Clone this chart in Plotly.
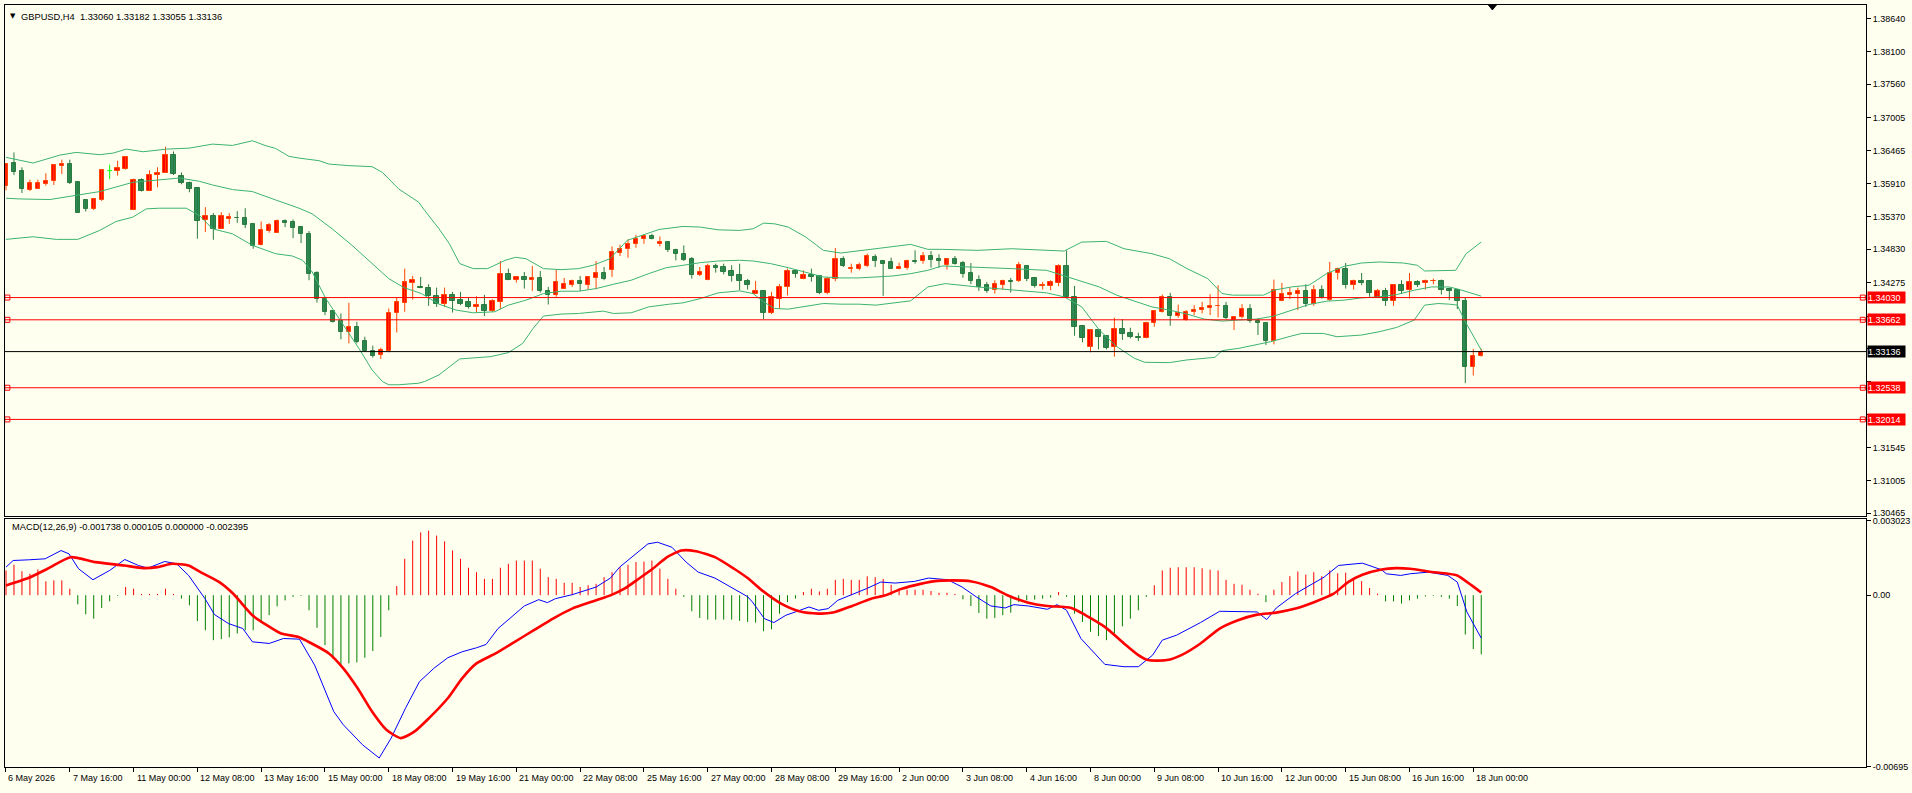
import plotly.graph_objects as go
from plotly.subplots import make_subplots

# ---------------- data ----------------
OPEN = [1.35883,1.36251,1.36119,1.35810,1.35827,1.35904,1.35965,1.36213,1.36234,1.35937,
1.35641,1.35493,1.35641,1.36130,1.36119,1.36157,1.35487,1.35982,1.35794,1.36058,
1.36097,1.36394,1.36047,1.35926,1.35838,1.35306,1.35372,1.35168,1.35322,1.35349,
1.35344,1.35245,1.34893,1.35135,1.35102,1.35294,1.35278,1.35196,1.35080,1.34437,
1.34014,1.33806,1.33646,1.33453,1.33547,1.33316,1.33151,1.33080,1.33146,1.33767,
1.33948,1.34278,1.34206,1.34190,1.34058,1.33921,1.34069,1.33992,1.33959,1.33876,
1.33905,1.33811,1.33959,1.34421,1.34317,1.34371,1.34317,1.34355,1.34141,1.34080,
1.34179,1.34234,1.34305,1.34245,1.34355,1.34437,1.34481,1.34772,1.34828,1.34920,
1.35003,1.35047,1.34910,1.34948,1.34822,1.34756,1.34663,1.34409,1.34317,1.34553,
1.34536,1.34470,1.34399,1.34305,1.34096,1.34135,1.33767,1.34014,1.34206,1.34476,
1.34333,1.34409,1.34388,1.34113,1.34338,1.34668,1.34498,1.34509,1.34558,1.34701,
1.34635,1.34619,1.34498,1.34525,1.34630,1.34630,1.34712,1.34668,1.34575,1.34673,
1.34608,1.34437,1.34317,1.34245,1.34152,1.34245,1.34300,1.34300,1.34547,1.34355,
1.34223,1.34223,1.34278,1.34553,1.34042,1.33564,1.33218,1.33493,1.33399,1.33206,
1.33509,1.33437,1.33382,1.33355,1.33602,1.33795,1.34042,1.33724,1.33658,1.33790,
1.33823,1.33861,1.33888,1.33893,1.33658,1.33701,1.33839,1.33641,1.33613,1.33316,
1.33970,1.34080,1.34096,1.34141,1.33931,1.34152,1.33988,1.34437,1.34509,1.34234,
1.34300,1.34305,1.34030,1.34135,1.33970,1.34234,1.34152,1.34289,1.34278,1.34300,
1.34305,1.34168,1.34157,1.33975,1.32877,1.33060]

HIGH = [1.36251,1.36432,1.36185,1.35982,1.35982,1.36086,1.36229,1.36312,1.36312,1.35942,
1.35641,1.35679,1.36157,1.36229,1.36295,1.36366,1.35998,1.36003,1.36135,1.36185,
1.36526,1.36448,1.36102,1.35949,1.35855,1.35526,1.35427,1.35443,1.35427,1.35460,
1.35509,1.35245,1.35289,1.35262,1.35322,1.35322,1.35322,1.35212,1.35130,1.34466,
1.34014,1.33806,1.33767,1.33943,1.33630,1.33382,1.33234,1.33201,1.33849,1.34030,
1.34509,1.34388,1.34371,1.34251,1.34195,1.34195,1.34124,1.34124,1.34025,1.34053,
1.34075,1.34003,1.34635,1.34509,1.34388,1.34454,1.34553,1.34470,1.34206,1.34492,
1.34355,1.34327,1.34388,1.34371,1.34635,1.34536,1.34877,1.34904,1.34993,1.35069,
1.35069,1.35085,1.35042,1.34948,1.34838,1.34894,1.34701,1.34536,1.34591,1.34591,
1.34591,1.34564,1.34591,1.34338,1.34305,1.34135,1.34124,1.34251,1.34509,1.34492,
1.34481,1.34509,1.34388,1.34371,1.34850,1.34712,1.34591,1.34608,1.34756,1.34746,
1.34635,1.34690,1.34608,1.34657,1.34811,1.34784,1.34800,1.34746,1.34673,1.34718,
1.34635,1.34602,1.34399,1.34289,1.34317,1.34327,1.34355,1.34619,1.34564,1.34371,
1.34289,1.34317,1.34581,1.34811,1.34223,1.33575,1.33503,1.33503,1.33399,1.33696,
1.33674,1.33531,1.33448,1.33630,1.33823,1.34080,1.34108,1.33915,1.33823,1.33905,
1.33959,1.34086,1.34234,1.33959,1.33712,1.33921,1.33921,1.33685,1.33613,1.34327,
1.34272,1.34195,1.34195,1.34251,1.34234,1.34234,1.34619,1.34525,1.34602,1.34327,
1.34437,1.34317,1.34173,1.34190,1.34234,1.34317,1.34437,1.34317,1.34327,1.34344,
1.34327,1.34195,1.34168,1.34025,1.33180,1.33182]

LOW = [1.35805,1.36058,1.35761,1.35794,1.35827,1.35883,1.35893,1.36074,1.35909,1.35432,
1.35454,1.35476,1.35629,1.35992,1.36047,1.36146,1.35476,1.35784,1.35794,1.35855,
1.36097,1.36058,1.35904,1.35772,1.35003,1.35113,1.34986,1.35168,1.35250,1.35267,
1.35179,1.34838,1.34893,1.35102,1.35102,1.35196,1.35014,1.34932,1.34317,1.33948,
1.33740,1.33618,1.33338,1.33272,1.33272,1.33135,1.33036,1.33015,1.33124,1.33453,
1.33795,1.33997,1.34185,1.33893,1.33876,1.33876,1.33783,1.33905,1.33849,1.33783,
1.33724,1.33795,1.33839,1.34317,1.34278,1.34179,1.34141,1.34113,1.33915,1.34042,
1.34179,1.34206,1.34135,1.34162,1.34168,1.34317,1.34371,1.34717,1.34689,1.34854,
1.34920,1.34993,1.34877,1.34784,1.34646,1.34635,1.34344,1.34384,1.34317,1.34443,
1.34415,1.34294,1.34152,1.34162,1.34096,1.33674,1.33757,1.33844,1.34064,1.34360,
1.34333,1.34294,1.34086,1.34086,1.34300,1.34536,1.34443,1.34481,1.34536,1.34536,
1.34058,1.34509,1.34498,1.34492,1.34591,1.34591,1.34525,1.34525,1.34492,1.34575,
1.34360,1.34251,1.34141,1.34108,1.34096,1.34162,1.34113,1.34289,1.34300,1.34195,
1.34162,1.34152,1.34218,1.34030,1.33399,1.33289,1.33124,1.33173,1.33173,1.33052,
1.33328,1.33355,1.33311,1.33355,1.33547,1.33783,1.33564,1.33696,1.33646,1.33740,
1.33767,1.33740,1.33701,1.33674,1.33493,1.33685,1.33613,1.33410,1.33245,1.33256,
1.33970,1.34003,1.33823,1.33876,1.33893,1.34014,1.33975,1.34327,1.34179,1.34162,
1.34234,1.34042,1.34030,1.33893,1.33893,1.34096,1.34014,1.34206,1.34162,1.34251,
1.34080,1.33988,1.33839,1.32613,1.32740,1.33055]

CLOSE = [1.36239,1.36113,1.35827,1.35921,1.35921,1.35965,1.36223,1.36239,1.35926,1.35432,
1.35498,1.35657,1.36135,1.36130,1.36168,1.36349,1.35982,1.35794,1.36064,1.36097,
1.36394,1.36074,1.35926,1.35827,1.35290,1.35372,1.35168,1.35388,1.35361,1.35339,
1.35234,1.34882,1.35141,1.35223,1.35289,1.35267,1.35184,1.35075,1.34426,1.34014,
1.33795,1.33630,1.33453,1.33547,1.33300,1.33146,1.33069,1.33163,1.33778,1.33959,
1.34289,1.34322,1.34185,1.34053,1.33921,1.34069,1.33975,1.33931,1.33876,1.33905,
1.33811,1.33970,1.34421,1.34317,1.34371,1.34317,1.34355,1.34135,1.34080,1.34289,
1.34251,1.34300,1.34261,1.34371,1.34437,1.34344,1.34784,1.34828,1.34920,1.35003,
1.35042,1.35003,1.34948,1.34811,1.34746,1.34657,1.34409,1.34454,1.34553,1.34525,
1.34459,1.34388,1.34300,1.34245,1.34135,1.33767,1.34042,1.34206,1.34470,1.34426,
1.34409,1.34377,1.34113,1.34338,1.34668,1.34547,1.34525,1.34564,1.34712,1.34630,
1.34591,1.34509,1.34536,1.34635,1.34619,1.34712,1.34657,1.34630,1.34668,1.34591,
1.34426,1.34305,1.34206,1.34141,1.34251,1.34300,1.34289,1.34564,1.34344,1.34223,
1.34240,1.34289,1.34553,1.34042,1.33547,1.33355,1.33493,1.33382,1.33201,1.33509,
1.33420,1.33382,1.33355,1.33613,1.33806,1.34042,1.33724,1.33767,1.33790,1.33823,
1.33861,1.33893,1.33893,1.33685,1.33712,1.33839,1.33641,1.33602,1.33316,1.34152,
1.34086,1.34108,1.34135,1.33931,1.34152,1.34025,1.34437,1.34509,1.34234,1.34300,
1.34278,1.34113,1.34135,1.33970,1.34234,1.34141,1.34289,1.34245,1.34305,1.34305,
1.34162,1.34141,1.33970,1.32877,1.33069,1.33136]

# Bollinger bands (bar index, value)
BB_UPPER = [(0,1.36350),(3.4,1.36256),(6.75,1.36387),(8.8,1.36432),(11.75,1.36394),(13.4,1.36420),
(15.1,1.36486),(17.2,1.36443),(20.1,1.36486),(23,1.36503),(25.9,1.36569),(28.4,1.36547),(30.9,1.36625),
(32.6,1.36542),(33.8,1.36498),(35.5,1.36366),(36.75,1.36338),(39.25,1.36295),(40.5,1.36239),(43,1.36213),
(45.9,1.36196),(47.2,1.36102),(49.25,1.35827),(51.75,1.35608),(52.5,1.35471),(54.3,1.35168),(55.6,1.34920),
(56.9,1.34591),(58.6,1.34509),(60.4,1.34509),(62.6,1.34647),(63.9,1.34696),(65.2,1.34673),(67.4,1.34509),
(69.6,1.34492),(71.8,1.34509),(73.6,1.34564),(75.75,1.34673),(77.9,1.34976),(79.7,1.35058),(81.9,1.35157),
(84.9,1.35207),(87.1,1.35196),(89.3,1.35151),(92,1.35141),(93.7,1.35168),(95,1.35262),(96.4,1.35250),
(98.1,1.35196),(100.3,1.35031),(102.5,1.34811),(104.7,1.34767),(106.9,1.34800),(109.1,1.34838),
(111.25,1.34866),(113.45,1.34910),(115.6,1.34828),(117.4,1.34828),(121.8,1.34811),(126.1,1.34838),
(132.7,1.34800),(134.9,1.34948),(138,1.34960),(140.2,1.34838),(143.7,1.34756),(145.9,1.34673),
(148.1,1.34509),(150.7,1.34344),(152.5,1.34096),(153.8,1.34070),(157.7,1.34070),(159,1.34152),
(161.2,1.34206),(163.4,1.34234),(165.6,1.34426),(167.8,1.34547),(170,1.34602),(172.2,1.34619),
(175.25,1.34602),(177,1.34564),(177.9,1.34470),(181.8,1.34481),(183.1,1.34756),(185,1.34948)]

BB_MIDDLE = [(0,1.35674),(1.75,1.35662),(5.5,1.35652),(8.8,1.35718),(11.75,1.35784),(15.9,1.35937),
(18,1.35965),(20.1,1.35992),(21.75,1.36008),(24.25,1.35954),(25.9,1.35893),(28.4,1.35817),(30.9,1.35784),
(33.8,1.35646),(36.75,1.35509),(38.4,1.35415),(40.9,1.35168),(43.4,1.34894),(45.9,1.34591),(48,1.34344),
(49.9,1.34195),(52.1,1.34096),(54.3,1.33921),(56.45,1.33823),(58.6,1.33778),(61.3,1.33795),(63,1.33905),
(65.2,1.33987),(67.4,1.34096),(69.6,1.34135),(71.8,1.34135),(74,1.34179),(76.2,1.34251),(78.4,1.34317),
(80.6,1.34426),(82.8,1.34525),(84.9,1.34564),(87.1,1.34608),(89.3,1.34635),(92,1.34647),(93.7,1.34635),
(95.9,1.34591),(98.1,1.34525),(100.3,1.34454),(102.5,1.34371),(104.7,1.34355),(106.9,1.34355),
(109.1,1.34371),(111.25,1.34388),(113.45,1.34426),(115.6,1.34481),(117.4,1.34553),(121.8,1.34536),
(126.1,1.34509),(130.5,1.34481),(132.7,1.34388),(134.9,1.34305),(137.1,1.34206),(139.3,1.34069),
(141.5,1.33975),(143.7,1.33876),(145.9,1.33823),(148.1,1.33757),(150.25,1.33674),(152.5,1.33641),
(154.6,1.33658),(156.8,1.33674),(159,1.33724),(161.2,1.33823),(163.4,1.33915),(165.6,1.33970),
(167.8,1.33987),(170,1.34025),(172.2,1.34042),(174.4,1.34080),(176.6,1.34152),(178.75,1.34206),
(181,1.34206),(182.3,1.34162),(185,1.34053)]

BB_LOWER = [(0,1.34993),(2.6,1.35026),(3.4,1.35036),(6.3,1.34993),(9,1.34993),(11.75,1.35141),
(13.8,1.35289),(15.9,1.35361),(17.6,1.35498),(19.25,1.35509),(22.6,1.35509),(24.25,1.35388),
(25.9,1.35168),(28.4,1.35085),(30.9,1.34894),(33.8,1.34756),(35.9,1.34718),(37.2,1.34647),(38.4,1.34454),
(40.1,1.34014),(41.75,1.33685),(44.25,1.33190),(45.9,1.32834),(47.2,1.32641),(48,1.32587),(49.25,1.32587),
(51.75,1.32613),(52.5,1.32641),(54.3,1.32751),(56.9,1.33015),(58.6,1.33031),(60.8,1.33053),(63,1.33119),
(64.8,1.33272),(66.1,1.33520),(67.4,1.33724),(69.6,1.33757),(71.8,1.33767),(74.9,1.33806),(76.2,1.33767),
(78.4,1.33778),(80.6,1.33876),(83.2,1.33921),(84.9,1.33943),(87.1,1.34014),(89.3,1.34108),(92,1.34141),
(93.7,1.34096),(95,1.33959),(96.4,1.33849),(98.1,1.33839),(102.5,1.33932),(104.7,1.33921),(106.9,1.33921),
(109.1,1.33905),(113.45,1.33976),(115.6,1.34206),(117.8,1.34261),(121.8,1.34206),(126.1,1.34162),
(130.5,1.34108),(132.7,1.34042),(134.9,1.33876),(137.1,1.33493),(139.3,1.33218),(141.5,1.33025),
(142.8,1.32959),(145.9,1.32954),(148.1,1.32998),(151.6,1.33041),(152.5,1.33152),(154.6,1.33190),
(156.8,1.33245),(158.6,1.33300),(161.2,1.33394),(162.5,1.33437),(165.2,1.33437),(166.9,1.33382),
(170,1.33410),(172.2,1.33465),(174.4,1.33536),(176.6,1.33658),(177.9,1.33905),(179.6,1.33932),
(181,1.33921),(182,1.33905),(183,1.33630),(185,1.33163)]

# MACD main (blue) and signal (red)
MACD_LINE = [(0,0.001135),(0.9,0.001403),(2.8,0.001430),(4.9,0.001471),(6.9,0.001806),(7.9,0.001672),
(9.1,0.001068),(10.9,0.000624),(13,0.001001),(14.9,0.001444),(16.6,0.001202),(17.8,0.001095),(19.9,0.001363),
(21.4,0.001269),(22.9,0.000799),(24.95,-0.000141),(26.15,-0.000786),(27.9,-0.001148),(29.7,-0.001350),
(30.9,-0.001887),(33,-0.001954),(34.8,-0.001753),(36.8,-0.001779),(38.7,-0.002827),(41.1,-0.004707),
(42.3,-0.005244),(44.7,-0.006050),(46.8,-0.006587),(48.3,-0.005782),(50.1,-0.004573),(51.85,-0.003499),
(53.65,-0.002961),(55.4,-0.002532),(57.2,-0.002290),(59,-0.002129),(60.2,-0.001994),(61.7,-0.001350),
(63.2,-0.000947),(65,-0.000436),(66.8,-0.000181),(67.9,-0.000302),(68.9,-0.000141),(71,0.000020),
(74,0.000329),(75.8,0.000692),(76.95,0.001135),(78.75,0.001605),(80.5,0.002075),(81.7,0.002142),
(83.5,0.001941),(85.3,0.001336),(86.8,0.000933),(88.9,0.000692),(91.3,0.000262),(93,-0.000060),
(93.6,-0.000275),(95.1,-0.000947),(96.3,-0.001108),(97.8,-0.000812),(99,-0.000678),(100.7,-0.000477),
(101.9,-0.000611),(103.1,-0.000544),(104.3,-0.000208),(106.1,0.000020),(107.9,0.000262),(109.7,0.000530),
(111.5,0.000490),(113.9,0.000557),(115.7,0.000692),(118.1,0.000624),(119.9,0.000329),(121.7,-0.000074),
(123.5,-0.000436),(125.3,-0.000517),(126.4,-0.000383),(128.2,-0.000436),(130.6,-0.000571),(131.8,-0.000383),
(133,-0.000611),(134.8,-0.001753),(137.8,-0.002800),(140.2,-0.002894),(142,-0.002894),(143.8,-0.002424),
(145,-0.001820),(146.8,-0.001618),(149.8,-0.001108),(152.2,-0.000651),(154.5,-0.000678),(156.9,-0.000678),
(158.1,-0.000987),(159.3,-0.000517),(161.7,0.000060),(164.1,0.000530),(165.3,0.000732),(167.1,0.001202),
(170.1,0.001296),(172.5,0.001027),(173.1,0.000866),(174.9,0.000799),(176.1,0.000866),(178.4,0.000933),
(180.8,0.000799),(182,0.000530),(183.2,-0.000678),(185,-0.001738)]

SIGNAL_LINE = [(0,0.000396),(2.8,0.000692),(5.2,0.001068),(8.1,0.001538),(11.2,0.001336),(14.8,0.001202),
(17.2,0.001095),(19,0.001135),(20.8,0.001269),(22.9,0.001202),(24.4,0.000933),(26.75,0.000530),(28.5,0.000060),
(30.9,-0.000813),(32.7,-0.001215),(34.5,-0.001551),(36.6,-0.001685),(38.1,-0.001914),(40.5,-0.002357),
(42.3,-0.002961),(44.1,-0.003767),(45.9,-0.004707),(47.7,-0.005446),(49.5,-0.005782),(51.25,-0.005513),
(53.05,-0.004976),(55.4,-0.004170),(57.2,-0.003364),(59,-0.002760),(61.4,-0.002357),(63.8,-0.001887),
(66.2,-0.001417),(68.6,-0.000947),(71,-0.000544),(74,-0.000208),(75.8,-0.000007),(77.55,0.000262),
(79.35,0.000665),(81.1,0.001068),(82.9,0.001538),(84.7,0.001806),(86.5,0.001779),(88.9,0.001538),
(91.3,0.001068),(93,0.000692),(94.8,0.000195),(97.2,-0.000342),(99.5,-0.000651),(101.9,-0.000745),
(103.7,-0.000705),(106.1,-0.000436),(108.5,-0.000141),(110.3,-0.000007),(112.1,0.000235),(113.9,0.000396),
(116.3,0.000557),(118.7,0.000598),(121.1,0.000557),(123.5,0.000329),(125.8,-0.000034),(128.2,-0.000302),
(130.6,-0.000436),(133.6,-0.000517),(135.4,-0.000813),(137.8,-0.001283),(140.2,-0.001954),(142,-0.002424),
(143.2,-0.002626),(145.6,-0.002626),(147.4,-0.002424),(149.8,-0.001954),(152.2,-0.001350),(154.5,-0.001014),
(156.9,-0.000786),(159.3,-0.000705),(161.7,-0.000544),(164.1,-0.000275),(166.5,0.000060),(168.3,0.000530),
(170.1,0.000826),(172.5,0.001041),(174.3,0.001095),(176.1,0.001068),(178.4,0.000960),(180.8,0.000866),
(182,0.000799),(183.8,0.000396),(185,0.000105)]

HIST = [0.00100,0.00123,0.00097,0.00087,0.00104,0.00056,0.00060,0.00060,0.00026,-0.00037,
-0.00077,-0.00095,-0.00052,-0.00025,-0.00003,0.00033,0.00026,0.00005,0.00005,0.00005,
0.00026,0.00005,-0.00014,-0.00041,-0.00105,-0.00142,-0.00182,-0.00178,-0.00171,-0.00155,
-0.00142,-0.00142,-0.00108,-0.00081,-0.00045,-0.00021,-0.00007,-0.00003,-0.00061,-0.00132,
-0.00202,-0.00256,-0.00283,-0.00276,-0.00272,-0.00253,-0.00226,-0.00169,-0.00061,0.00037,
0.00147,0.00221,0.00254,0.00261,0.00241,0.00218,0.00181,0.00147,0.00111,0.00093,
0.00066,0.00066,0.00111,0.00127,0.00140,0.00140,0.00140,0.00107,0.00073,0.00066,
0.00050,0.00050,0.00033,0.00040,0.00046,0.00073,0.00093,0.00113,0.00123,0.00134,
0.00136,0.00140,0.00107,0.00066,0.00026,-0.00007,-0.00065,-0.00092,-0.00099,-0.00099,
-0.00099,-0.00099,-0.00104,-0.00108,-0.00111,-0.00146,-0.00138,-0.00075,-0.00028,-0.00014,
0.00013,0.00026,0.00015,0.00026,0.00062,0.00066,0.00062,0.00062,0.00076,0.00073,
0.00066,0.00042,0.00026,0.00022,0.00022,0.00022,0.00017,0.00010,0.00010,0.00005,
-0.00017,-0.00044,-0.00072,-0.00095,-0.00092,-0.00081,-0.00071,-0.00028,-0.00021,-0.00018,
-0.00014,-0.00010,0.00013,-0.00007,-0.00075,-0.00108,-0.00148,-0.00165,-0.00182,-0.00155,
-0.00126,-0.00095,-0.00061,-0.00007,0.00040,0.00100,0.00111,0.00113,0.00113,0.00113,
0.00109,0.00103,0.00100,0.00062,0.00046,0.00042,0.00022,0.00006,-0.00028,0.00022,
0.00053,0.00077,0.00096,0.00083,0.00093,0.00077,0.00100,0.00089,0.00091,0.00066,
0.00057,0.00029,0.00006,-0.00025,-0.00025,-0.00034,-0.00021,-0.00014,-0.00005,-0.00003,
-0.00007,-0.00014,-0.00044,-0.00159,-0.00218,-0.002395]

RED_LEVELS = [1.34030, 1.33662, 1.32538, 1.32014]
BID = 1.33136

PRICE_TICKS = [1.38640,1.38100,1.37560,1.37005,1.36465,1.35910,1.35370,1.34830,1.34275,
               1.33720,1.33180,1.32640,1.32100,1.31545,1.31005,1.30465]
# ticks whose labels sit under the price boxes (covered in the reference)
COVERED_TICKS = [1.33720, 1.33180, 1.32640, 1.32100]
MACD_TICKS = [0.003023, 0.0, -0.00695]
MACD_TICK_TEXT = ["0.003023", "0.00", "-0.00695"]

TIME_LABEL_IDX = [0,8,16,24,32,40,48,56,64,72,80,88,96,104,112,120,128,136,144,152,160,168,176,184]
TIME_LABELS = ["6 May 2026","7 May 16:00","11 May 00:00","12 May 08:00","13 May 16:00","15 May 00:00",
               "18 May 08:00","19 May 16:00","21 May 00:00","22 May 08:00","25 May 16:00","27 May 00:00",
               "28 May 08:00","29 May 16:00","2 Jun 00:00","3 Jun 08:00","4 Jun 16:00","8 Jun 00:00",
               "9 Jun 08:00","10 Jun 16:00","12 Jun 00:00","15 Jun 08:00","16 Jun 16:00","18 Jun 00:00"]

TITLE = "GBPUSD,H4  1.33060 1.33182 1.33055 1.33136"
MACD_TITLE = "MACD(12,26,9) -0.001738 0.000105 0.000000 -0.002395"

# ---------------- styling ----------------
BG = "#FFFFF0"
UP_FILL, UP_LINE = "#FF0000", "#FF4500"
DN_FILL, DN_LINE = "#2E8B57", "#2A7A3E"
DOJI = "#00FF00"
BB_COLOR = "#3CB371"
FONT = "Liberation Sans"

N = len(CLOSE)
idx = list(range(N))
X_RANGE = [-0.125, 233.25]
Y1_RANGE = [1.30416, 1.38871]
Y2_RANGE = [-0.006952, 0.003083]

fig = make_subplots(rows=2, cols=1)

# Candle wicks
groups = {"up": ([], []), "dn": ([], []), "doji": ([], [])}
for i in idx:
    o, h, l, c = OPEN[i], HIGH[i], LOW[i], CLOSE[i]
    g = "up" if c > o else ("dn" if c < o else "doji")
    groups[g][0].extend([i, i, None])
    groups[g][1].extend([l, h, None])
    if g == "doji":
        groups[g][0].extend([i - 0.3, i + 0.3, None])
        groups[g][1].extend([o, o, None])
wick_col = {"up": UP_LINE, "dn": DN_LINE, "doji": DOJI}
for g, (xs, ys) in groups.items():
    fig.add_trace(go.Scatter(x=xs, y=ys, mode="lines", line=dict(color=wick_col[g], width=1),
                             hoverinfo="skip", showlegend=False), row=1, col=1)

# Candle bodies
MIN_BODY = 0.00005
for g, fill, line in (("up", UP_FILL, UP_LINE), ("dn", DN_FILL, DN_LINE)):
    bx, bb, bh = [], [], []
    for i in idx:
        o, c = OPEN[i], CLOSE[i]
        if (g == "up" and c > o) or (g == "dn" and c < o):
            bx.append(i)
            bb.append(min(o, c))
            bh.append(max(abs(c - o), MIN_BODY))
    fig.add_trace(go.Bar(x=bx, y=bh, base=bb, width=0.55,
                         marker=dict(color=fill, line=dict(color=line, width=1)),
                         hoverinfo="skip", showlegend=False), row=1, col=1)

# Bollinger bands
for band in (BB_UPPER, BB_MIDDLE, BB_LOWER):
    fig.add_trace(go.Scatter(x=[p[0] for p in band], y=[p[1] for p in band], mode="lines",
                             line=dict(color=BB_COLOR, width=1), hoverinfo="skip",
                             showlegend=False), row=1, col=1)

# Small squares at the ends of the red level lines
for lvl in RED_LEVELS:
    fig.add_trace(go.Scatter(x=[0.17, 232.85], y=[lvl, lvl], mode="markers",
                             marker=dict(symbol="square-open", size=5, color="#FF0000",
                                         line=dict(width=1, color="#FF0000")),
                             hoverinfo="skip", showlegend=False), row=1, col=1)

# MACD histogram
hx = {"pos": ([], []), "neg": ([], [])}
for i, v in enumerate(HIST):
    k = "pos" if v >= 0 else "neg"
    hx[k][0].extend([i, i, None])
    hx[k][1].extend([0, v, None])
for k, col in (("pos", "#FF0000"), ("neg", "#008000")):
    fig.add_trace(go.Scatter(x=hx[k][0], y=hx[k][1], mode="lines", line=dict(color=col, width=1),
                             hoverinfo="skip", showlegend=False), row=2, col=1)

fig.add_trace(go.Scatter(x=[p[0] for p in MACD_LINE], y=[p[1] for p in MACD_LINE], mode="lines",
                         line=dict(color="#0000FF", width=1), hoverinfo="skip", showlegend=False),
              row=2, col=1)
fig.add_trace(go.Scatter(x=[p[0] for p in SIGNAL_LINE], y=[p[1] for p in SIGNAL_LINE], mode="lines",
                         line=dict(color="#FF0000", width=2.6, shape="spline", smoothing=0.6),
                         hoverinfo="skip", showlegend=False), row=2, col=1)

# Horizontal level lines
shapes = []
for lvl in RED_LEVELS:
    shapes.append(dict(type="line", xref="x", yref="y", x0=X_RANGE[0], x1=X_RANGE[1], y0=lvl, y1=lvl,
                       line=dict(color="#FF0000", width=1), layer="above"))
shapes.append(dict(type="line", xref="x", yref="y", x0=X_RANGE[0], x1=X_RANGE[1], y0=BID, y1=BID,
                   line=dict(color="#000000", width=1), layer="above"))
# shift marker triangle at the top
shapes.append(dict(type="path", xref="x", yref="paper",
                   path="M 185.9 1 L 186.9 1 L 186.4 0.9935 Z",
                   fillcolor="#000000", line=dict(color="#000000", width=1)))

annotations = []
# Price boxes on right axis
for lvl, col in [(l, "#FF0000") for l in RED_LEVELS] + [(BID, "#000000")]:
    annotations.append(dict(x=1, xref="paper", y=lvl, yref="y", xanchor="left", yanchor="middle",
                            xshift=1, text=f"{lvl:.5f}", showarrow=False, bgcolor=col,
                            font=dict(family=FONT, size=9, color="#FFFFFF"),
                            width=37, height=11, borderpad=0, align="left"))
# Time labels
for i, t in zip(TIME_LABEL_IDX, TIME_LABELS):
    xi = X_RANGE[0] if i == 0 else i
    annotations.append(dict(x=xi, xref="x2", y=0, yref="paper", xanchor="left", yanchor="top",
                            xshift=1, yshift=-4, text=t, showarrow=False,
                            font=dict(family=FONT, size=9, color="#000000")))
# Titles
annotations.append(dict(x=0, xref="paper", y=1, yref="paper", xanchor="left", yanchor="top",
                        xshift=3, yshift=-5, text="▼", showarrow=False,
                        font=dict(family="DejaVu Sans", size=7, color="#000000")))
annotations.append(dict(x=0, xref="paper", y=1, yref="paper", xanchor="left", yanchor="top",
                        xshift=14, yshift=-5, text=TITLE, showarrow=False,
                        font=dict(family=FONT, size=9.3, color="#000000")))
annotations.append(dict(x=0, xref="paper", y=0.32549, yref="paper", xanchor="left", yanchor="top",
                        xshift=5, yshift=-1, text=MACD_TITLE, showarrow=False,
                        font=dict(family=FONT, size=9.3, color="#000000")))

axis_common = dict(showgrid=False, zeroline=False, showline=True, mirror=True,
                   linecolor="#000000", linewidth=1)

price_text = ["" if v in COVERED_TICKS else f"{v:.5f}" for v in PRICE_TICKS]

fig.update_layout(
    width=1912, height=793,
    margin=dict(l=5, r=40, t=2, b=26, pad=0),
    paper_bgcolor=BG, plot_bgcolor=BG,
    barmode="overlay", bargap=0, hovermode=False, showlegend=False,
    shapes=shapes, annotations=annotations,
    xaxis=dict(range=X_RANGE, showticklabels=False, ticks="", **axis_common),
    xaxis2=dict(range=X_RANGE, showticklabels=False, ticks="outside", ticklen=4,
                tickcolor="#000000", tickvals=[X_RANGE[0]] + TIME_LABEL_IDX[1:], **axis_common),
    yaxis=dict(domain=[0.32941, 1.0], range=Y1_RANGE, side="right", tickvals=PRICE_TICKS,
               ticktext=price_text, ticks="outside", ticklen=4,
               tickcolor="#000000", tickfont=dict(family=FONT, size=9, color="#000000"),
               **axis_common),
    yaxis2=dict(domain=[0.0, 0.32549], range=Y2_RANGE, side="right", tickvals=MACD_TICKS,
                ticktext=MACD_TICK_TEXT, ticks="outside", ticklen=4, tickcolor="#000000",
                tickfont=dict(family=FONT, size=9, color="#000000"), **axis_common),
)

fig.write_html("out.html")
